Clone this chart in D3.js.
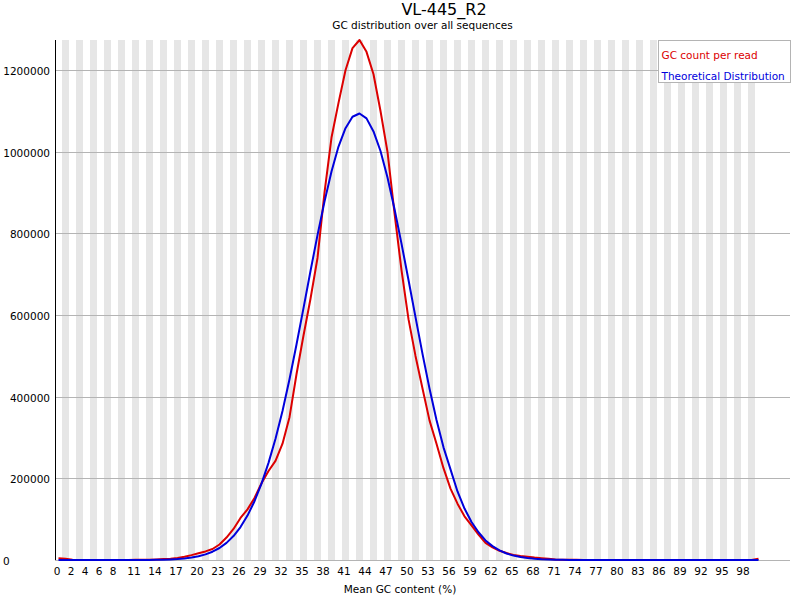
<!DOCTYPE html>
<html>
<head>
<meta charset="utf-8">
<script src="https://cdn.jsdelivr.net/npm/d3@7"></script>
<style>
  html, body { margin: 0; padding: 0; background: #fff; }
  svg { display: block; }
</style>
</head>
<body>
<svg id="chart" width="800" height="600"></svg>
<script>
  // GC content per read, 0..100 %
  const gcCategories = d3.range(0, 101);

  const gcCountPerRead = [
    4000, 3000, 400, 200, 150, 150, 150, 200, 200, 250,
    300, 400, 600, 900, 1400, 2200, 3300, 5000, 8000, 12000,
    16500, 21000, 27000, 38000, 55000, 76000, 103000, 124000, 152000, 188000,
    218000, 243000, 285000, 350000, 455000, 550000, 640000, 740000, 900000, 1035000,
    1120000, 1200000, 1254000, 1274000, 1245000, 1190000, 1100000, 1000000, 850000, 710000,
    590000, 500000, 420000, 342000, 285000, 225000, 175000, 138000, 107000, 85000,
    62000, 42000, 31000, 22500, 17000, 12500, 10000, 8000, 6000, 4500,
    3000, 1500, 900, 600, 400, 300, 250, 200, 150, 150,
    100, 100, 100, 100, 100, 100, 100, 100, 100, 100,
    100, 100, 100, 100, 100, 100, 100, 100, 100, 0,
    3000
  ];

  const theoreticalDistribution = [
    0, 0, 0, 0, 0, 0, 0, 0, 0, 0,
    0, 50, 100, 200, 500, 900, 1500, 2400, 3800, 6000,
    9000, 13700, 20300, 29400, 42000, 58700, 80600, 108800, 144000, 187000,
    238000, 297000, 365000, 443000, 528000, 617000, 708000, 796000, 878000, 952000,
    1013000, 1058000, 1086000, 1094000, 1082000, 1050000, 1002000, 937000, 860000, 775000,
    686000, 595000, 505000, 420000, 343000, 276000, 222000, 168000, 126000, 93000,
    68000, 48000, 34000, 23500, 16000, 10800, 7200, 4700, 3000, 1900,
    1200, 700, 400, 250, 150, 80, 40, 20, 10, 0,
    0, 0, 0, 0, 0, 0, 0, 0, 0, 0,
    0, 0, 0, 0, 0, 0, 0, 0, 0, 0,
    0
  ];

  const xTickLabels = [0, 2, 4, 6, 8, 11, 14, 17, 20, 23, 26, 29, 32, 35, 38, 41, 44, 47,
    50, 53, 56, 59, 62, 65, 68, 71, 74, 77, 80, 83, 86, 89, 92, 95, 98];
  const yTickValues = [0, 200000, 400000, 600000, 800000, 1000000, 1200000];
  const yMax = 1274000;

  const seriesNames = ['GC count per read', 'Theoretical Distribution'];

  // styles
  const FONT = 'DejaVu Sans, sans-serif';
  const SMALL_FONT_SIZE = '10.5px';
  const TITLE_FONT_SIZE = '16px';
  const STRIPE_FILL = '#e6e6e6';
  const GRID_STROKE = '#b4b4b4';
  const SERIES_COLORS = ['#dc0000', '#0000dc'];
  const LINE_WIDTH = 2;

  const svg = d3.select('#chart');
  const width = +svg.attr('width');
  const height = +svg.attr('height');

  const plotLeft = 55;
  const plotTop = 40;
  const plotBottom = height - 40;
  const plotRight = width - 10;
  const bandStep = 7;

  const x = d3.scaleBand()
    .domain(gcCategories)
    .range([plotLeft, plotLeft + bandStep * gcCategories.length])
    .padding(0);

  const y = d3.scaleLinear()
    .domain([0, yMax])
    .range([plotBottom, plotTop]);

  drawStripes();
  drawGrid();
  drawAxes();
  drawSeries(gcCountPerRead, SERIES_COLORS[0]);
  drawSeries(theoreticalDistribution, SERIES_COLORS[1]);
  drawTitles();
  drawLegend();

  function drawStripes() {
    svg.append('g')
      .attr('class', 'stripes')
      .selectAll('rect')
      .data(gcCategories.filter((c, i) => i % 2 === 1))
      .join('rect')
      .attr('x', d => x(d))
      .attr('y', plotTop)
      .attr('width', x.bandwidth())
      .attr('height', plotBottom - plotTop)
      .attr('fill', STRIPE_FILL);
  }

  function drawGrid() {
    svg.append('g')
      .attr('class', 'grid')
      .selectAll('line')
      .data(yTickValues)
      .join('line')
      .attr('x1', plotLeft)
      .attr('x2', plotRight)
      .attr('y1', d => Math.round(y(d)) + 0.5)
      .attr('y2', d => Math.round(y(d)) + 0.5)
      .attr('stroke', GRID_STROKE)
      .attr('stroke-width', 1);
  }

  function drawAxes() {
    // y axis line
    svg.append('line')
      .attr('x1', plotLeft + 0.5)
      .attr('x2', plotLeft + 0.5)
      .attr('y1', plotTop)
      .attr('y2', plotBottom)
      .attr('stroke', '#000')
      .attr('stroke-width', 1);

    // y labels, the zero label sits at the far left like in the original
    svg.append('g')
      .attr('class', 'y-labels')
      .selectAll('text')
      .data(yTickValues)
      .join('text')
      .attr('x', d => (d === 0 ? 3 : plotLeft - 5))
      .attr('y', d => y(d) + 5)
      .attr('text-anchor', d => (d === 0 ? 'start' : 'end'))
      .attr('font-family', FONT)
      .attr('font-size', SMALL_FONT_SIZE)
      .attr('fill', '#000')
      .text(d => d);

    svg.append('g')
      .attr('class', 'x-labels')
      .selectAll('text')
      .data(xTickLabels)
      .join('text')
      .attr('x', d => x(d) + x.bandwidth() / 2 - 1.5)
      .attr('y', plotBottom + 15)
      .attr('text-anchor', 'middle')
      .attr('font-family', FONT)
      .attr('font-size', SMALL_FONT_SIZE)
      .attr('fill', '#000')
      .text(d => d);

    svg.append('text')
      .attr('x', width / 2)
      .attr('y', height - 7)
      .attr('text-anchor', 'middle')
      .attr('font-family', FONT)
      .attr('font-size', SMALL_FONT_SIZE)
      .attr('fill', '#000')
      .text('Mean GC content (%)');
  }

  function drawSeries(values, color) {
    const line = d3.line()
      .x((d, i) => x(gcCategories[i]) + x.bandwidth() / 2)
      .y(d => y(d));

    svg.append('path')
      .datum(values)
      .attr('d', line)
      .attr('fill', 'none')
      .attr('stroke', color)
      .attr('stroke-width', LINE_WIDTH)
      .attr('stroke-linejoin', 'round');
  }

  function drawTitles() {
    svg.append('text')
      .attr('x', 444)
      .attr('y', 15)
      .attr('text-anchor', 'middle')
      .attr('font-family', FONT)
      .attr('font-size', TITLE_FONT_SIZE)
      .attr('fill', '#000')
      .text('VL-445_R2');

    svg.append('text')
      .attr('x', plotLeft + (plotRight - plotLeft) / 2)
      .attr('y', 29)
      .attr('text-anchor', 'middle')
      .attr('font-family', FONT)
      .attr('font-size', SMALL_FONT_SIZE)
      .attr('fill', '#000')
      .text('GC distribution over all sequences');
  }

  function drawLegend() {
    const legend = svg.append('g')
      .attr('class', 'legend')
      .attr('transform', 'translate(658.5, 40.5)');

    legend.append('rect')
      .attr('width', 132)
      .attr('height', 42)
      .attr('fill', '#fff')
      .attr('stroke', '#b4b4b4');

    legend.selectAll('text')
      .data(seriesNames)
      .join('text')
      .attr('x', 3)
      .attr('y', (d, i) => 18.5 + i * 20.5)
      .attr('font-family', FONT)
      .attr('font-size', SMALL_FONT_SIZE)
      .attr('fill', (d, i) => SERIES_COLORS[i])
      .text(d => d);
  }
</script>
</body>
</html>
